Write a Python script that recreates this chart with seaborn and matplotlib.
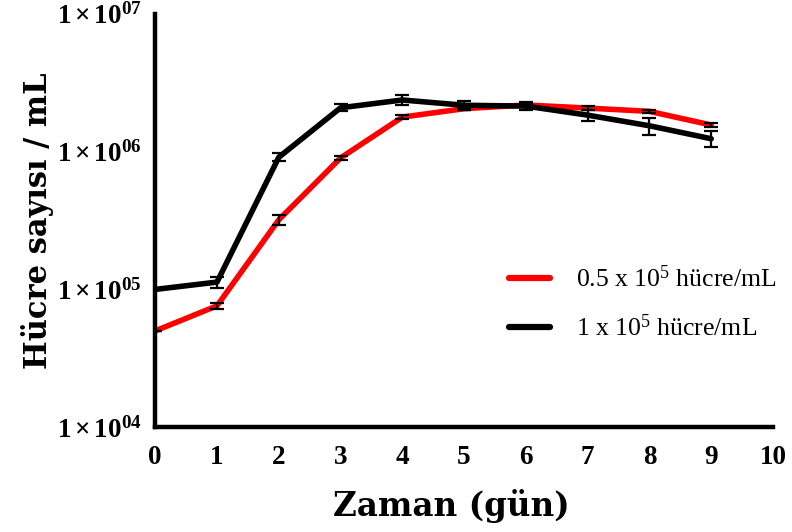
import pandas as pd
import seaborn as sns
import matplotlib.pyplot as plt
from matplotlib.ticker import LogLocator, MultipleLocator, FixedLocator, FixedFormatter, NullFormatter

# veriler
gun = [0, 1, 2, 3, 4, 5, 6, 7, 8, 9]
hucre_05 = [5.0e4, 7.6e4, 3.2e5, 9.0e5, 1.78e6, 2.05e6, 2.18e6, 2.07e6, 1.96e6, 1.56e6]
hucre_05_sd = [0, 4.0e3, 2.8e4, 3.0e4, 6.0e4, 4.0e4, 5.0e4, 8.0e4, 6.0e4, 6.0e4]
hucre_1 = [1.0e5, 1.13e5, 9.1e5, 2.08e6, 2.37e6, 2.17e6, 2.14e6, 1.84e6, 1.54e6, 1.24e6]
hucre_1_sd = [0, 1.0e4, 6.0e4, 1.2e5, 2.0e5, 1.5e5, 1.5e5, 1.6e5, 2.2e5, 1.6e5]
seri_adlari = ['0.5 x 10$^5$ hücre/mL', '1 x 10$^5$ hücre/mL']
renkler = ['#ff0000', '#000000']
y_ticks = [1e4, 1e5, 1e6, 1e7]
y_etiketler = [r'$\mathbf{1\times10^{04}}$', r'$\mathbf{1\times10^{05}}$',
               r'$\mathbf{1\times10^{06}}$', r'$\mathbf{1\times10^{07}}$']

sns.set_style('white', rc={'text.color': 'black', 'axes.labelcolor': 'black',
                           'xtick.color': 'black', 'ytick.color': 'black',
                           'axes.edgecolor': 'black'})
plt.rcParams['font.family'] = ['Liberation Serif', 'DejaVu Serif']
plt.rcParams['mathtext.fontset'] = 'custom'
plt.rcParams['mathtext.rm'] = 'Liberation Serif'
plt.rcParams['mathtext.bf'] = 'Liberation Serif:bold'
plt.rcParams['mathtext.it'] = 'Liberation Serif:italic'

df = pd.DataFrame({
    'gun': gun * 2,
    'hucre': hucre_05 + hucre_1,
    'sd': hucre_05_sd + hucre_1_sd,
    'grup': [seri_adlari[0]] * len(gun) + [seri_adlari[1]] * len(gun),
})

fig = plt.figure(figsize=(7.92, 5.32), dpi=100)
ax = fig.add_axes([0.196, 0.197, 0.78, 0.777])

sns.lineplot(data=df, x='gun', y='hucre', hue='grup', palette=renkler,
             linewidth=4, ax=ax, legend=True)

for grup in seri_adlari:
    d = df[df['grup'] == grup]
    ax.errorbar(d['gun'], d['hucre'], yerr=d['sd'], fmt='none', ecolor='black',
                elinewidth=1.6, capsize=5, capthick=1.6, zorder=5)

ax.set_yscale('log')
ax.set_ylim(1e4, 1e7)
ax.set_xlim(0, 10)
ax.yaxis.set_major_locator(FixedLocator(y_ticks))
ax.yaxis.set_major_formatter(FixedFormatter(y_etiketler))
ax.yaxis.set_minor_locator(LogLocator(base=10, subs=range(2, 10)))
ax.yaxis.set_minor_formatter(NullFormatter())
ax.xaxis.set_major_locator(MultipleLocator(1))
ax.xaxis.set_minor_locator(MultipleLocator(0.2))

sns.despine(ax=ax)
for s in ['left', 'bottom']:
    ax.spines[s].set_linewidth(3.2)
ax.tick_params(which='major', direction='out', length=7, width=3.2)
ax.tick_params(which='minor', direction='out', length=4, width=2.5)
ax.tick_params(axis='x', which='major', labelsize=19.5, pad=6)
ax.tick_params(axis='y', which='major', labelsize=19.5, pad=3)
for lbl in ax.get_xticklabels():
    lbl.set_fontweight('bold')

ax.set_xlabel('Zaman (gün)', fontsize=23.5, fontweight='bold', family='DejaVu Serif')
ax.xaxis.set_label_coords(0.479, -0.15)
ax.set_ylabel('Hücre sayısı / mL', fontsize=22, fontweight='bold', family='DejaVu Serif', labelpad=2)

leg = ax.legend(loc='center left', bbox_to_anchor=(0.535, 0.30), frameon=False,
                fontsize=18.5, handlelength=1.6, handletextpad=1.0, labelspacing=0.85)
for line in leg.get_lines():
    line.set_linewidth(4.5)

fig.savefig('out.png', dpi=100)
